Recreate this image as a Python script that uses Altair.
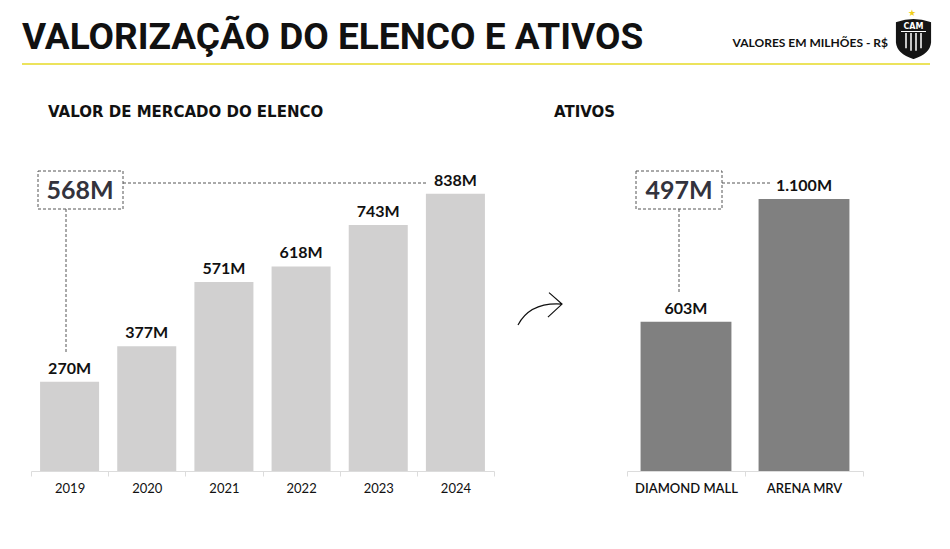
import altair as alt
import pandas as pd

# ---- data ----
years = ["2019", "2020", "2021", "2022", "2023", "2024"]
market_values = [270, 377, 571, 618, 743, 838]
assets = ["DIAMOND MALL", "ARENA MRV"]
asset_values = [603, 1100]

title_text = "VALORIZAÇÃO DO ELENCO E ATIVOS"
unit_text = "VALORES EM MILHÕES - R$"
left_subtitle = "VALOR DE MERCADO DO ELENCO"
right_subtitle = "ATIVOS"


def fmt(v):
    return f"{v:,}".replace(",", ".") + "M"


df_l = pd.DataFrame({"cat": years, "v": market_values,
                     "lbl": [fmt(v) for v in market_values]})
df_r = pd.DataFrame({"cat": assets, "v": asset_values,
                     "lbl": [fmt(v) for v in asset_values]})

growth_l = fmt(market_values[-1] - market_values[0])
growth_r = fmt(asset_values[-1] - asset_values[0])

FONT = "Lato"
one = pd.DataFrame({"k": [0]})

axis_common = dict(title=None, labelAngle=0, grid=False, domainColor="#dcdcdc",
                   tickColor="#dcdcdc", tickSize=5, tickBand="extent",
                   labelPadding=6, labelFont=FONT, labelFontSize=13,
                   labelColor="#111111", orient="bottom")

# ---- left chart ----
xl = alt.X("cat:N", sort=years,
           scale=alt.Scale(range=[23, 486], paddingInner=0, paddingOuter=0),
           axis=alt.Axis(**axis_common, labelFontWeight="normal"))
yl = alt.Y("v:Q", scale=alt.Scale(domain=[0, 1399]), axis=None)
bars_l = alt.Chart(df_l).mark_bar(color="#d1d0d0",
                                   width=alt.RelativeBandSize(0.765)).encode(x=xl, y=yl)
text_l = alt.Chart(df_l).mark_text(font=FONT, fontSize=16, fontWeight="bold",
                                    color="#111111", baseline="alphabetic",
                                    dy=-8).encode(x=xl, y=yl, text="lbl:N")
left = alt.layer(bars_l, text_l)

# ---- right chart ----
xr = alt.X("cat:N", sort=assets,
           scale=alt.Scale(range=[619, 855], paddingInner=0, paddingOuter=0),
           axis=alt.Axis(**axis_common, labelFontWeight=600))
yr = alt.Y("v:Q", scale=alt.Scale(domain=[0, 1872]), axis=None)
bars_r = alt.Chart(df_r).mark_bar(color="#808080",
                                   width=alt.RelativeBandSize(0.77)).encode(x=xr, y=yr)
text_r = alt.Chart(df_r).mark_text(font=FONT, fontSize=16, fontWeight="bold",
                                    color="#111111", baseline="alphabetic",
                                    dy=-8).encode(x=xr, y=yr, text="lbl:N")
right = alt.layer(bars_r, text_r)


# ---- decorations ----
def txt(s, x, y, size, weight="bold", align="left", color="#111111",
        baseline="middle", font=FONT):
    return alt.Chart(one).mark_text(text=s, font=font, fontSize=size,
                                    fontWeight=weight, align=align,
                                    baseline=baseline, color=color).encode(
        x=alt.value(x), y=alt.value(y))


def rule(x, x2, y, y2, color="#555555", dash=(3, 2), width=1):
    return alt.Chart(one).mark_rule(color=color, strokeDash=list(dash),
                                    strokeWidth=width).encode(
        x=alt.value(x), x2=alt.value(x2), y=alt.value(y), y2=alt.value(y2))


def box(x, x2, y, y2):
    return alt.Chart(one).mark_rect(fill="white", stroke="#555555",
                                    strokeDash=[3, 2], strokeWidth=1).encode(
        x=alt.value(x), x2=alt.value(x2), y=alt.value(y), y2=alt.value(y2))


title = txt(title_text, 14, 41, 37, font="Roboto", baseline="alphabetic")
yellow = rule(14, 922, 56, 56, color="#ece35c", dash=(1, 0), width=2)
unit = txt(unit_text, 880, 35, 12, align="right")
sub_l = txt(left_subtitle, 40, 104, 15, font="DejaVu Sans")
sub_r = txt(right_subtitle, 546, 104, 15, font="DejaVu Sans")

ann = [
    rule(115, 420, 175, 175),
    rule(58, 58, 201, 345),
    box(30, 115, 163, 201),
    txt(growth_l, 72, 183, 25, color="#33333d", align="center"),
    rule(714, 762, 175, 175),
    rule(671, 671, 201, 285),
    box(628, 714, 163, 201),
    txt(growth_r, 671, 183, 25, color="#33333d", align="center"),
]

arrow = alt.Chart(one).mark_point(
    shape="M -1 0.75 Q -0.45 -0.3 1 -0.2 M 0.41 -0.72 L 1 -0.2 L 0.36 0.39",
    filled=False, stroke="#111111", strokeWidth=1.2, size=1936, opacity=1
).encode(x=alt.value(532), y=alt.value(300.5))

# logo
shield = alt.Chart(one).mark_point(
    shape="M -0.85 -0.8 Q 0 -1.1 0.85 -0.8 L 0.85 0.2 Q 0.8 0.75 0 1 Q -0.8 0.75 -0.85 0.2 Z",
    filled=True, fill="#151515", stroke="#151515", size=1521, opacity=1
).encode(x=alt.value(905.5), y=alt.value(30.5))
cam = txt("CAM", 905.5, 19, 8, color="white", align="center", font="DejaVu Sans")
stripes = [rule(sx, sx, 25, 44 - abs(sx - 905.5) * 0.5, color="white", dash=(1, 0), width=1.5)
           for sx in [898, 903, 908, 913]]
band = rule(893, 918, 23.5, 23.5, color="white", dash=(1, 0), width=1)
star = txt("★", 904, 5, 9, color="#f1cf1b", align="center", font="DejaVu Sans")

chart = alt.layer(
    left, right, title, yellow, unit, sub_l, sub_r, *ann, arrow,
    shield, cam, *stripes, band, star
).resolve_scale(x="independent", y="independent").properties(
    width=934, height=463,
    autosize=alt.AutoSizeParams(type="none"),
    padding={"left": 0, "top": 0, "right": 0, "bottom": 70},
).configure_view(strokeWidth=0)

chart.save("out.html", embed_options={"renderer": "svg", "actions": False})
